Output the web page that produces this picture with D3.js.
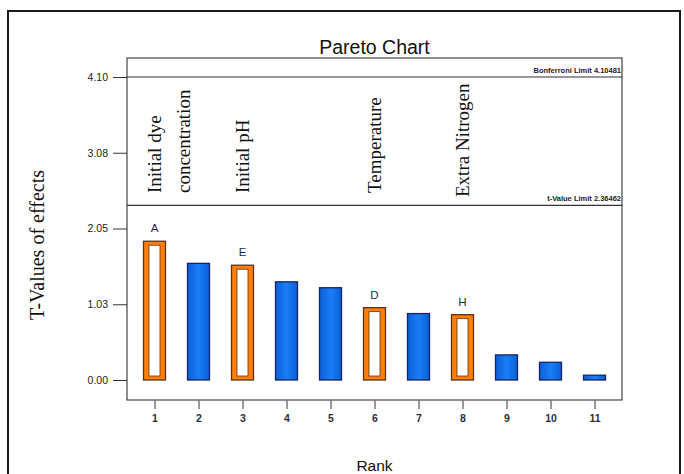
<!DOCTYPE html>
<html>
<head>
<meta charset="utf-8">
<script src="https://cdn.jsdelivr.net/npm/d3@7"></script>
<style>
  body { margin: 0; background: #fff; }
</style>
</head>
<body>
<div id="chart"></div>
<script>
// data
const ranks = [1, 2, 3, 4, 5, 6, 7, 8, 9, 10, 11];
const tValues = [1.88, 1.58, 1.555, 1.33, 1.25, 0.98, 0.90, 0.885, 0.34, 0.24, 0.065];
const significant = [true, false, true, false, false, true, false, true, false, false, false];
const letters = ['A', '', 'E', '', '', 'D', '', 'H', '', '', ''];
const factorNames = [['Initial dye', 'concentration'], [], ['Initial pH'], [], [], ['Temperature'], [], ['Extra Nitrogen'], [], [], []];
const bonferroni = 4.10481;
const tLimit = 2.36462;
const yTicks = [0, bonferroni / 4, bonferroni / 2, bonferroni * 3 / 4, bonferroni];

const width = 684;
const height = 474;
const frame = { left: 127, right: 622, top: 58, bottom: 400 };

const svg = d3.select('#chart')
  .append('svg')
  .attr('width', width)
  .attr('height', height);

// outer border
svg.append('rect')
  .attr('x', 8).attr('y', 11)
  .attr('width', 672).attr('height', 480)
  .attr('fill', 'none')
  .attr('stroke', '#1a1a1a')
  .attr('stroke-width', 2);

const x = d3.scalePoint()
  .domain(ranks)
  .range([frame.left, frame.right])
  .padding(0.625);

const y = d3.scaleLinear()
  .domain([0, bonferroni])
  .range([380, 77]);

const barW = 22;

// gradient for blue bars
const grad = svg.append('defs').append('linearGradient')
  .attr('id', 'blue').attr('x1', '0%').attr('x2', '100%');
grad.append('stop').attr('offset', '0%').attr('stop-color', '#0a5fd8');
grad.append('stop').attr('offset', '50%').attr('stop-color', '#1a7ef6');
grad.append('stop').attr('offset', '100%').attr('stop-color', '#0a5fd8');

// plot frame
svg.append('rect')
  .attr('x', frame.left).attr('y', frame.top)
  .attr('width', frame.right - frame.left)
  .attr('height', frame.bottom - frame.top)
  .attr('fill', 'none')
  .attr('stroke', '#444')
  .attr('stroke-width', 1.2);

// limit lines
[bonferroni, tLimit].forEach(v => {
  svg.append('line')
    .attr('x1', frame.left).attr('x2', frame.right)
    .attr('y1', y(v)).attr('y2', y(v))
    .attr('stroke', '#333').attr('stroke-width', 1.2);
});
svg.append('text')
  .attr('x', frame.right - 1).attr('y', y(bonferroni) - 4)
  .attr('text-anchor', 'end')
  .style('font', 'bold 7.5px "Liberation Sans Narrow", "Liberation Sans", Arial')
  .attr('fill', '#222')
  .text('Bonferroni Limit ' + bonferroni);
svg.append('text')
  .attr('x', frame.right - 1).attr('y', y(tLimit) - 4)
  .attr('text-anchor', 'end')
  .style('font', 'bold 7.5px "Liberation Sans Narrow", "Liberation Sans", Arial')
  .attr('fill', '#222')
  .text('t-Value Limit ' + tLimit);

// y axis
const yAxis = svg.append('g')
  .attr('transform', `translate(${frame.left},0)`)
  .call(d3.axisLeft(y).tickValues(yTicks).tickFormat(d3.format('.2f')).tickSize(14).tickPadding(5));
yAxis.select('.domain').remove();
yAxis.selectAll('line').attr('stroke', '#333');
yAxis.selectAll('text')
  .style('font', '10.5px "Liberation Sans", Arial')
  .attr('fill', '#222');

// x axis
const xAxis = svg.append('g')
  .attr('transform', `translate(0,${frame.bottom})`)
  .call(d3.axisBottom(x).tickSize(9).tickPadding(6));
xAxis.select('.domain').remove();
xAxis.selectAll('line').attr('stroke', '#777').attr('stroke-width', 1.5);
xAxis.selectAll('text')
  .style('font', 'bold 10.5px "Liberation Sans", Arial')
  .attr('fill', '#2a2f3a');

// bars
const bars = svg.append('g')
  .selectAll('g')
  .data(ranks)
  .join('g');

bars.append('rect')
  .attr('x', (d, i) => x(d) - barW / 2)
  .attr('y', (d, i) => y(tValues[i]))
  .attr('width', barW)
  .attr('height', (d, i) => y(0) - y(tValues[i]))
  .attr('fill', (d, i) => significant[i] ? '#ff7f0a' : 'url(#blue)')
  .attr('stroke', (d, i) => significant[i] ? '#5a3418' : '#1b2460')
  .attr('stroke-width', 1.3);

// witte binnenkant voor de significante effecten
bars.filter((d, i) => significant[i])
  .append('rect')
  .attr('x', d => x(d) - barW / 2 + 5.5)
  .attr('y', (d, i) => y(tValues[ranks.indexOf(d)]) + 4)
  .attr('width', barW - 11)
  .attr('height', d => y(0) - y(tValues[ranks.indexOf(d)]) - 8)
  .attr('fill', '#fff')
  .attr('stroke', '#5a3418')
  .attr('stroke-width', 0.8);

// letters boven de balken
bars.append('text')
  .attr('x', d => x(d))
  .attr('y', (d, i) => y(tValues[i]) - 9)
  .attr('text-anchor', 'middle')
  .style('font', '11.5px "Liberation Sans", Arial')
  .attr('fill', '#1c2a4a')
  .text((d, i) => letters[i]);

// factor names, rotated
ranks.forEach((r, i) => {
  const lines = factorNames[i];
  lines.forEach((t, j) => {
    const cx = x(r) + (lines.length > 1 ? j * 29 : 0);
    const by = lines.length > 1 || t !== 'Extra Nitrogen' ? 193 : 197;
    svg.append('text')
      .attr('transform', `translate(${cx + 6},${by}) rotate(-90)`)
      .style('font', '19px "Liberation Serif", "Times New Roman", serif')
      .attr('fill', '#111')
      .text(t);
  });
});

// title
svg.append('text')
  .attr('x', (frame.left + frame.right) / 2)
  .attr('y', 54)
  .attr('text-anchor', 'middle')
  .style('font', '19.5px "Liberation Sans", Arial')
  .attr('fill', '#111')
  .text('Pareto Chart');

// axis titles
svg.append('text')
  .attr('transform', `translate(44,245) rotate(-90)`)
  .attr('text-anchor', 'middle')
  .style('font', '20px "Liberation Serif", "Times New Roman", serif')
  .attr('fill', '#111')
  .text('T-Values of effects');

svg.append('text')
  .attr('x', (frame.left + frame.right) / 2)
  .attr('y', 471)
  .attr('text-anchor', 'middle')
  .style('font', '15.5px "Liberation Sans", Arial')
  .attr('fill', '#111')
  .text('Rank');
</script>
</body>
</html>
